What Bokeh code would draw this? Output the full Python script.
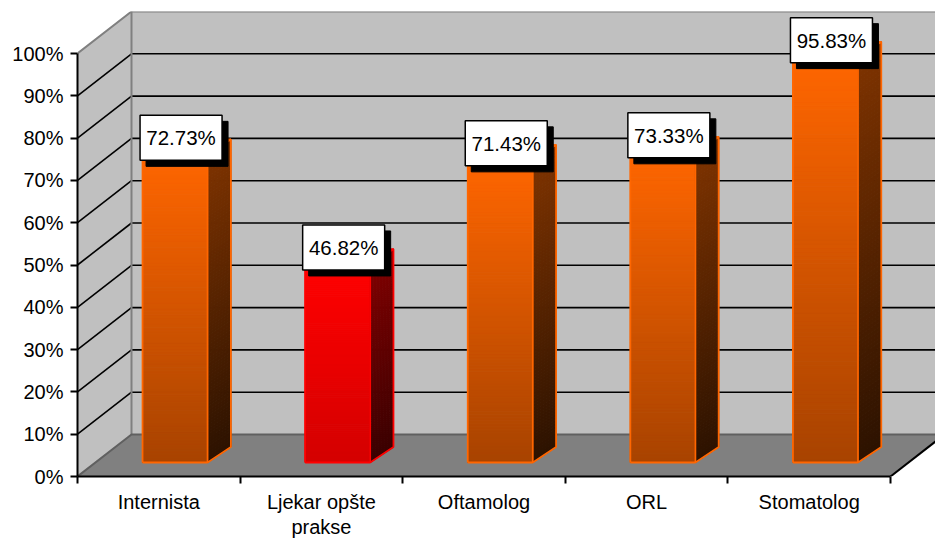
import numpy as np
from bokeh.plotting import figure
from bokeh.models import Range1d, FixedTicker, PrintfTickFormatter, LinearAxis
from bokeh.core.properties import value
from bokeh.embed import file_html
from bokeh.resources import INLINE

# ---------------- data ----------------
CATEGORIES = ["Internista", "Ljekar opšte\nprakse", "Oftamolog", "ORL", "Stomatolog"]
VALUES = [72.73, 46.82, 71.43, 73.33, 95.83]
BAR_STYLE = ["orange", "red", "orange", "orange", "orange"]
Y_TICKS = list(range(0, 101, 10))

# ---------------- styles ----------------
PALETTES = {
    "orange": dict(front_top="#FF6600", front_bot="#A84300", side_top="#7F3300",
                   side_bot="#2C1200", top="#FF7A1F", edge="#FF6600"),
    "red": dict(front_top="#FF0000", front_bot="#D40000", side_top="#800000",
                side_bot="#3A0000", top="#FF2020", edge="#FF0000"),
}
FONT_NAME = "Liberation Sans"
FONT = value(FONT_NAME)
FS = "20px"

W, H = 935, 541
LEFT, TOP = 77, 11
BOTTOM = H - 476
FRAME_W, FRAME_H = W - LEFT, H - BOTTOM - TOP
N = len(CATEGORIES)
PX_X = 813.0 / N            # px per category
PX_Y = 423.0 / 100.0        # px per percent
X_END = FRAME_W / PX_X
Y_END = FRAME_H / PX_Y
DX = 54.0 / PX_X            # wall depth offset
DY = Y_END - 100.0

# bar geometry (in data units)
F_L, F_R = 0.40, 0.80
BASE = 14.0 / PX_Y
SDX, SDY = 23.3 / PX_X, 15.5 / PX_Y


def hex2rgb(h):
    h = h.lstrip("#")
    return np.array([int(h[i:i + 2], 16) for i in (0, 2, 4)], dtype=float)


def mix(c_bot, c_top, t):
    a, b = hex2rgb(c_bot), hex2rgb(c_top)
    c = a + (b - a) * t
    return "#%02x%02x%02x" % tuple(int(round(v)) for v in c)


p = figure(width=W, height=H, output_backend="svg", toolbar_location=None,
           x_range=Range1d(0, X_END), y_range=Range1d(0, Y_END),
           min_border_left=LEFT, min_border_bottom=BOTTOM,
           min_border_top=TOP, min_border_right=0,
           background_fill_color="white", border_fill_color="white")
p.outline_line_color = None
p.grid.visible = False

# ---------------- walls & floor ----------------
p.patch([0, DX, DX, 0], [0, DY, 100 + DY, 100], fill_color="#C0C0C0", line_color=None)
p.patch([DX, X_END + 1, X_END + 1, DX], [DY, DY, 100 + DY, 100 + DY],
        fill_color="#C0C0C0", line_color=None)
p.patch([0, N, N + DX, DX], [0, 0, DY, DY], fill_color="#808080", line_color=None)

inner = [t for t in Y_TICKS if 0 < t < 100]
# back wall grid
p.segment(x0=[DX] * len(inner), y0=[t + DY for t in inner],
          x1=[X_END + 1] * len(inner), y1=[t + DY for t in inner],
          line_color="black", line_width=1.6)
# left wall grid
p.segment(x0=[0] * len(inner), y0=inner, x1=[DX] * len(inner),
          y1=[t + DY for t in inner], line_color="black", line_width=1.6)
# wall borders
p.line([0, DX, X_END + 1], [100, 100 + DY, 100 + DY], line_color="#808080", line_width=2)
p.line([DX, DX], [DY, 100 + DY], line_color="#808080", line_width=2)
p.line([0, DX, X_END + 1], [0, DY, DY], line_color="#606060", line_width=2)
p.line([N, N + DX], [0, DY], line_color="black", line_width=2)

# ---------------- bars ----------------
NS = 100
for i, (v, st) in enumerate(zip(VALUES, BAR_STYLE)):
    pal = PALETTES[st]
    x0, x1 = i + F_L, i + F_R
    top = v + BASE
    edges = np.linspace(BASE, top, NS + 1)
    mids = (edges[:-1] + edges[1:]) / 2
    ts = (mids - BASE) / (top - BASE)
    fcols = [mix(pal["front_bot"], pal["front_top"], t) for t in ts]
    scols = [mix(pal["side_bot"], pal["side_top"], t) for t in ts]
    p.quad(left=[x0] * NS, right=[x1] * NS, bottom=edges[:-1], top=edges[1:],
           fill_color=fcols, line_color=fcols, line_width=1)
    xs = [[x1, x1 + SDX, x1 + SDX, x1] for _ in range(NS)]
    ys = [[b, b + SDY, t + SDY, t] for b, t in zip(edges[:-1], edges[1:])]
    p.patches(xs, ys, fill_color=scols, line_color=scols, line_width=1)
    # top face
    p.patch([x0, x1, x1 + SDX, x0 + SDX], [top, top, top + SDY, top + SDY],
            fill_color=pal["top"], line_color=pal["edge"], line_width=1.5)
    # outlines
    p.line([x0, x1, x1, x0, x0], [BASE, BASE, top, top, BASE],
           line_color=pal["edge"], line_width=1.8)
    p.line([x1, x1 + SDX, x1 + SDX, x1], [BASE, BASE + SDY, top + SDY, top],
           line_color=pal["edge"], line_width=1.8)

# ---------------- value labels ----------------
lx = [i + (F_L + F_R) / 2 + 6.0 / PX_X for i in range(N)]
ly = [v + BASE + 17.0 / PX_Y for v in VALUES]
texts = ["%.2f%%" % v for v in VALUES]
p.rect(x=[x + 6.0 / PX_X for x in lx], y=[y - 6.0 / PX_Y for y in ly],
       width=82, height=45, width_units="screen", height_units="screen",
       fill_color="black", line_color="black")
p.rect(x=lx, y=ly, width=82, height=45, width_units="screen", height_units="screen",
       fill_color="white", line_color="black", line_width=1.5)
p.text(x=lx, y=ly, text=texts, text_align="center", text_baseline="middle",
       text_font=FONT, text_font_size="20.5px", text_color="black")

# ---------------- axes ----------------
ya = p.yaxis[0]
ya.ticker = FixedTicker(ticks=Y_TICKS)
ya.formatter = PrintfTickFormatter(format="%d%%")
ya.bounds = (0, 100)
ya.axis_line_color = "black"
ya.axis_line_width = 2
ya.major_tick_line_color = "black"
ya.major_tick_line_width = 2
ya.major_tick_out = 7
ya.major_tick_in = 0
ya.minor_tick_line_color = None
ya.major_label_standoff = 7
ya.major_label_text_font = FONT_NAME
ya.major_label_text_font_size = FS
ya.major_label_text_color = "black"

centers = [i + 0.5 for i in range(N)]
lines = [c.split("\n") for c in CATEGORIES]
line1 = {c: l[0] for c, l in zip(centers, lines)}
line2 = {c: (l[1] if len(l) > 1 else "") for c, l in zip(centers, lines)}

xa = p.xaxis[0]
xa.ticker = FixedTicker(ticks=centers, minor_ticks=list(range(N + 1)))
xa.major_label_overrides = line1
xa.bounds = (0, N)
xa.axis_line_color = "black"
xa.axis_line_width = 2
xa.major_tick_out = 0
xa.major_tick_in = 0
xa.major_tick_line_color = None
xa.minor_tick_line_color = "black"
xa.minor_tick_line_width = 2
xa.minor_tick_out = 7
xa.minor_tick_in = 0
xa.major_label_standoff = 7
xa.major_label_text_font = FONT_NAME
xa.major_label_text_font_size = FS
xa.major_label_text_color = "black"

# second line of the wrapped category labels
xa2 = LinearAxis(ticker=FixedTicker(ticks=centers, minor_ticks=[]),
                 major_label_overrides=line2, bounds=(0, N))
xa2.axis_line_color = None
xa2.major_tick_line_color = None
xa2.minor_tick_line_color = None
xa2.major_tick_out = 0
xa2.major_tick_in = 0
xa2.minor_tick_out = 0
xa2.minor_tick_in = 0
xa2.major_label_standoff = 0
xa2.major_label_text_font = FONT_NAME
xa2.major_label_text_font_size = FS
xa2.major_label_text_color = "black"
p.add_layout(xa2, "below")

open("out.html", "w").write(file_html(p, INLINE))
